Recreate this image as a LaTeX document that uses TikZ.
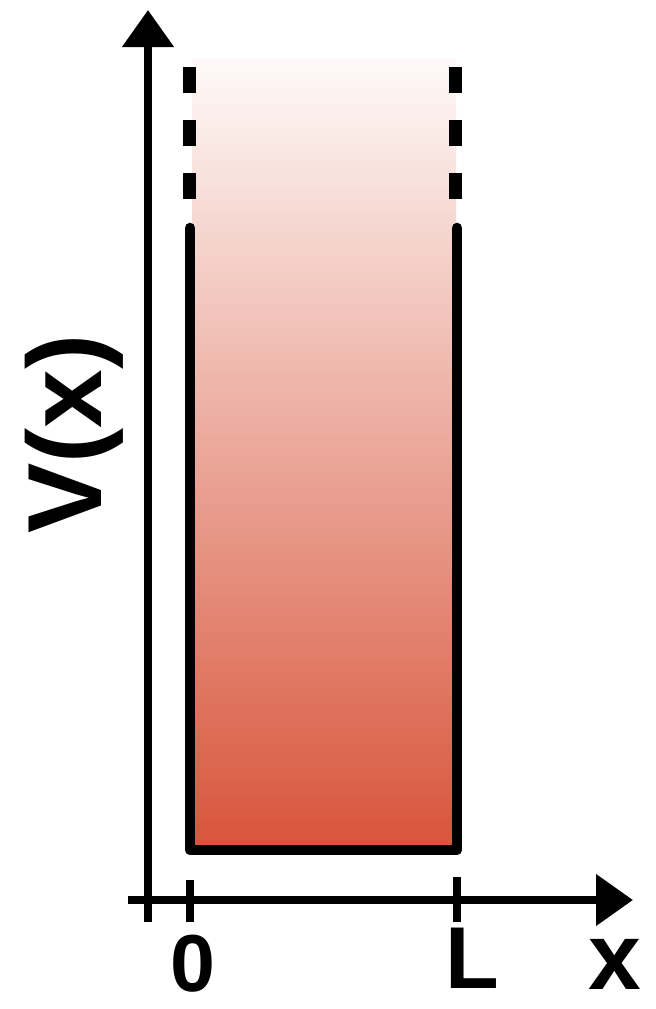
\documentclass[tikz,border=0pt]{standalone}
\usepackage{fontspec}
\setmainfont{Liberation Sans}
\usepackage{tikz}
\usetikzlibrary{arrows.meta}

\definecolor{welltop}{RGB}{254,250,249}
\definecolor{wellmid}{RGB}{240,198,187}
\definecolor{wellbot}{RGB}{216,84,58}

\begin{document}
\begin{tikzpicture}[
    x=0.02cm, y=-0.02cm,
    axis/.style={line width=4.5pt, -{Triangle[length=0.74cm, width=1cm]}},
    tick/.style={line width=4.5pt},
    wall/.style={line width=6pt, line cap=round, line join=round},
    wallext/.style={line width=7.4pt, dash pattern=on 14.8pt off 15.4pt},
    lbl/.style={font=\bfseries\fontsize{46}{48}\selectfont, inner sep=0pt}
]
\useasboundingbox (0,0) rectangle (656,1009);

% well interior
\shade[top color=welltop, middle color=wellmid, bottom color=wellbot]
    (192,58) rectangle (456,849);

% axes
\coordinate (ybot) at (148,922);
\coordinate (ytop) at (148,10);
\coordinate (xleft) at (128,900);
\coordinate (xright) at (633,900);
\draw[axis] (ybot) -- (ytop);
\draw[axis] (xleft) -- (xright);

% ticks
\coordinate (t0a) at (190,880);
\coordinate (t0b) at (190,922);
\coordinate (tLa) at (457,877);
\coordinate (tLb) at (457,922);
\draw[tick] (t0a) -- (t0b);
\draw[tick] (tLa) -- (tLb);

% walls
\coordinate (wl) at (190,228);
\coordinate (bl) at (190,850);
\coordinate (br) at (457,850);
\coordinate (wr) at (457,228);
\draw[black!25, line width=5pt, line join=round, line cap=round, shift={(2,5)}] (wl) -- (bl) -- (br) -- (wr);
\draw[wall] (wl) -- (bl) -- (br) -- (wr);

% walls go on up
\coordinate (dl) at (189,67);
\coordinate (dr) at (455,67);
\draw[wallext] (dl) -- +(0,133);
\draw[wallext] (dr) -- +(0,133);

% labels
\node[lbl, rotate=90, font=\bfseries\fontsize{60}{62}\selectfont] (vlab) at (74,434) {V(x)};
\node[lbl] (zero) at (193,964) {0};
\node[lbl, font=\bfseries\fontsize{50}{52}\selectfont] (ell) at (472,958) {L};
\node[lbl, font=\bfseries\fontsize{54}{56}\selectfont] (xlab) at (615,964) {x};
\end{tikzpicture}
\end{document}
